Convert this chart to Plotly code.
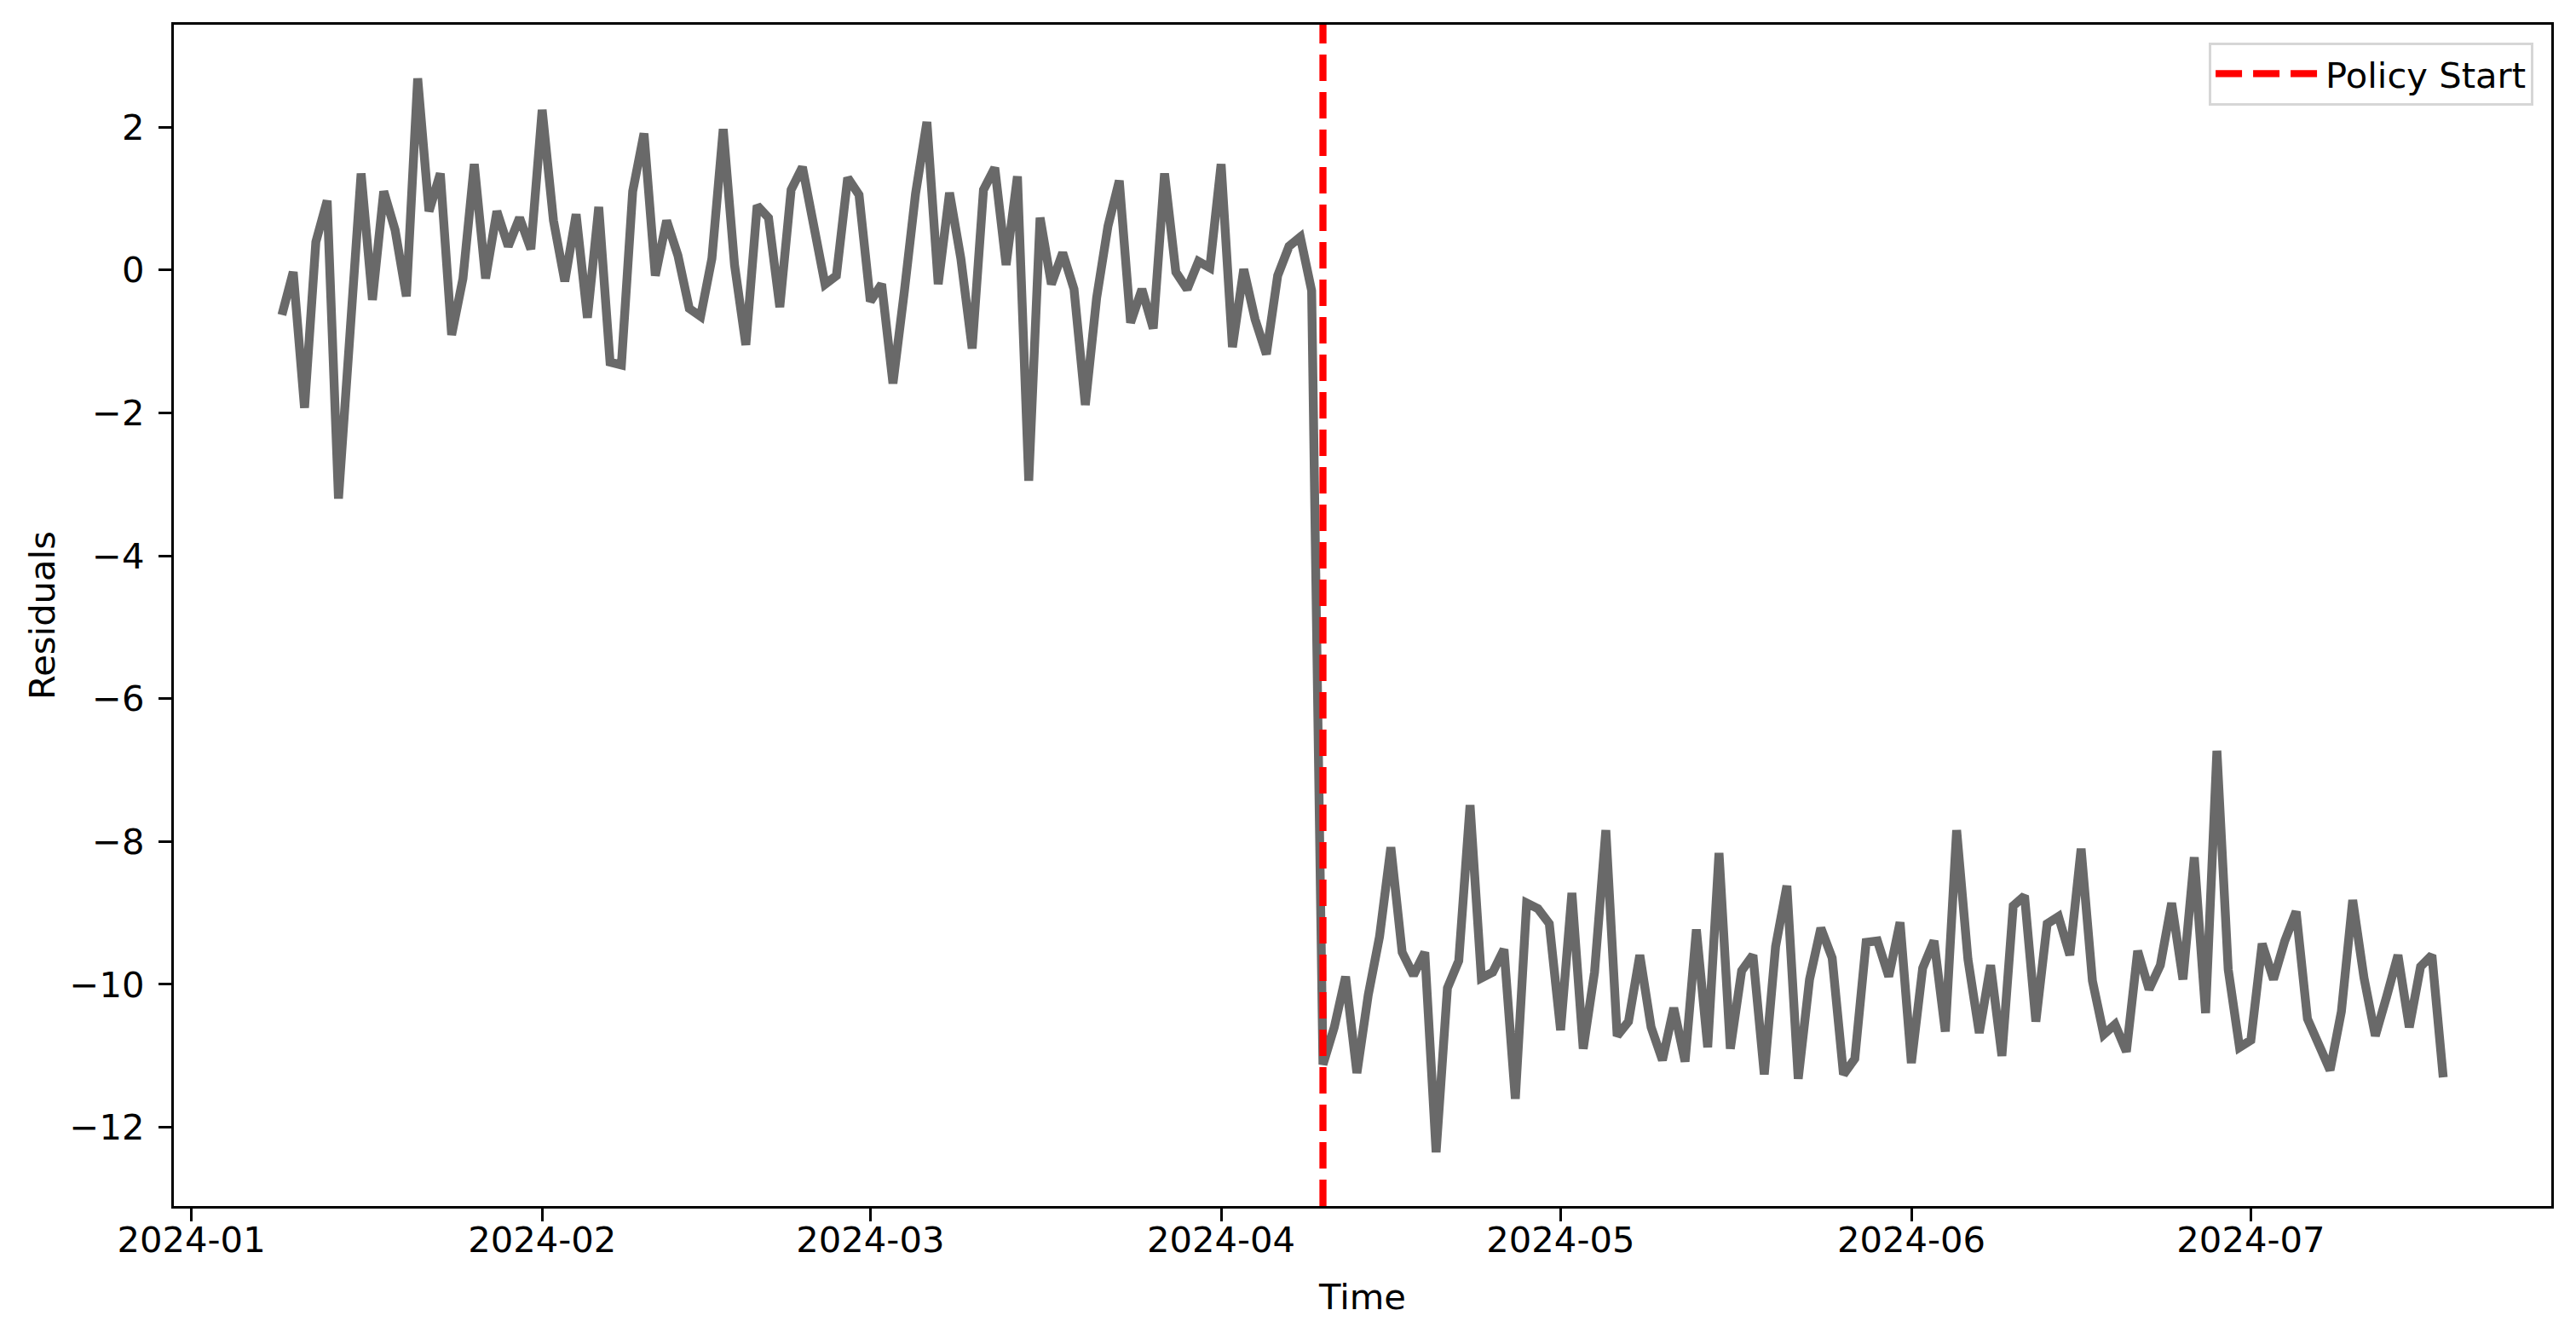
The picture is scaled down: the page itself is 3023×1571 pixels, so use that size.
import pandas as pd
import plotly.graph_objects as go

# ---- data ----
start_date = "2024-01-09"
policy_date = "2024-04-10"

pre_values = [
    -0.63, -0.03, -1.93, 0.39, 0.97, -3.20, -0.93, 1.35, -0.42, 1.10,
    0.56, -0.37, 2.68, 0.82, 1.35, -0.91, -0.12, 1.48, -0.12, 0.82,
    0.33, 0.73, 0.29, 2.24, 0.69, -0.16, 0.78, -0.67, 0.88, -1.29,
    -1.33, 1.10, 1.91, -0.08, 0.69, 0.20, -0.54, -0.65, 0.16, 1.97,
    0.07, -1.05, 0.90, 0.73, -0.52, 1.12, 1.44, 0.54, -0.20, -0.08,
    1.29, 1.05, -0.44, -0.20, -1.59, -0.31, 1.07, 2.07, -0.20, 1.08,
    0.16, -1.10, 1.12, 1.43, 0.07, 1.31, -2.95, 0.73, -0.20, 0.24,
    -0.27, -1.89, -0.39, 0.61, 1.25, -0.74, -0.27, -0.82, 1.35, -0.03,
    -0.27, 0.12, 0.03, 1.48, -1.08, 0.01, -0.69, -1.18, -0.08, 0.33,
    0.46, -0.29,
]

post_values = [
    -11.12, -10.60, -9.89, -11.24, -10.15, -9.33, -8.08, -9.55, -9.87, -9.55,
    -12.35, -10.05, -9.67, -7.49, -9.91, -9.83, -9.51, -11.60, -8.86, -8.94,
    -9.15, -10.64, -8.72, -10.90, -9.83, -7.84, -10.72, -10.52, -9.59, -10.60,
    -11.06, -10.33, -11.08, -9.23, -10.88, -8.16, -10.90, -9.81, -9.59, -11.26,
    -9.47, -8.62, -11.32, -9.93, -9.21, -9.63, -11.26, -11.04, -9.41, -9.39,
    -9.89, -9.13, -11.10, -9.77, -9.39, -10.66, -7.84, -9.65, -10.68, -9.73,
    -11.00, -8.90, -8.76, -10.52, -9.15, -9.05, -9.59, -8.10, -9.95, -10.70,
    -10.56, -10.94, -9.53, -10.07, -9.73, -8.86, -9.93, -8.22, -10.40, -6.73,
    -9.79, -10.88, -10.78, -9.43, -9.93, -9.39, -8.98, -10.48, -10.84, -11.20,
    -10.38, -8.82, -9.91, -10.72, -10.17, -9.59, -10.60, -9.75, -9.59, -11.30,
]

x_tick_vals = ["2024-01-01", "2024-02-01", "2024-03-01", "2024-04-01",
               "2024-05-01", "2024-06-01", "2024-07-01"]
x_tick_text = ["2024-01", "2024-02", "2024-03", "2024-04",
               "2024-05", "2024-06", "2024-07"]
y_tick_vals = [2, 0, -2, -4, -6, -8, -10, -12]
y_tick_text = ["2", "0", "\u22122", "\u22124", "\u22126", "\u22128", "\u221210", "\u221212"]

# ---- build ----
residuals = pre_values + post_values
dates = pd.date_range(start_date, periods=len(residuals), freq="D")

# matplotlib-like 5% margins
span_days = (dates[-1] - dates[0]).total_seconds() / 86400.0
x_lo = dates[0] - pd.Timedelta(days=0.05 * span_days)
x_hi = dates[-1] + pd.Timedelta(days=0.05 * span_days)
y_min, y_max = min(residuals), max(residuals)
y_lo = y_min - 0.05 * (y_max - y_min)
y_hi = y_max + 0.05 * (y_max - y_min)

FONT = "DejaVu Sans"
FS = 41.7
LW = 3.3

fig = go.Figure()
fig.add_trace(go.Scatter(
    x=dates, y=residuals, mode="lines",
    line=dict(color="#696969", width=10.4),
    showlegend=False, name="Residuals",
))
fig.add_trace(go.Scatter(
    x=[pd.Timestamp(policy_date), pd.Timestamp(policy_date)], y=[y_lo, y_hi],
    mode="lines", line=dict(color="#ff0000", width=8.3, dash="31px,13px"),
    name="Policy Start", showlegend=True,
))

axis_common = dict(
    showline=True, mirror=True, linecolor="black", linewidth=LW,
    ticks="outside", ticklen=15, tickwidth=LW, tickcolor="black",
    showgrid=False, zeroline=False,
    tickfont=dict(family=FONT, size=FS, color="black"),
)

# page body has an 8px default margin: size the figure to sit inside the window
fig.update_layout(
    width=3015, height=1563,
    margin=dict(l=196, r=29, t=21, b=156, autoexpand=False),
    paper_bgcolor="white", plot_bgcolor="white",
    font=dict(family=FONT, size=FS, color="black"),
    xaxis=dict(
        range=[x_lo, x_hi], tickvals=x_tick_vals, ticktext=x_tick_text,
        ticklabelstandoff=-14,
        title=dict(text="Time", font=dict(family=FONT, size=FS), standoff=29),
        **axis_common,
    ),
    yaxis=dict(
        range=[y_lo, y_hi], tickvals=y_tick_vals, ticktext=y_tick_text,
        ticklabelstandoff=8,
        title=dict(text="Residuals", font=dict(family=FONT, size=FS), standoff=4),
        **axis_common,
    ),
    legend=dict(
        x=0.9925, y=0.985, xanchor="right", yanchor="top",
        bgcolor="white", bordercolor="#d6d6d6", borderwidth=3,
        font=dict(family=FONT, size=FS, color="black"),
        itemwidth=124,
    ),
)

fig.write_html("out.html")
